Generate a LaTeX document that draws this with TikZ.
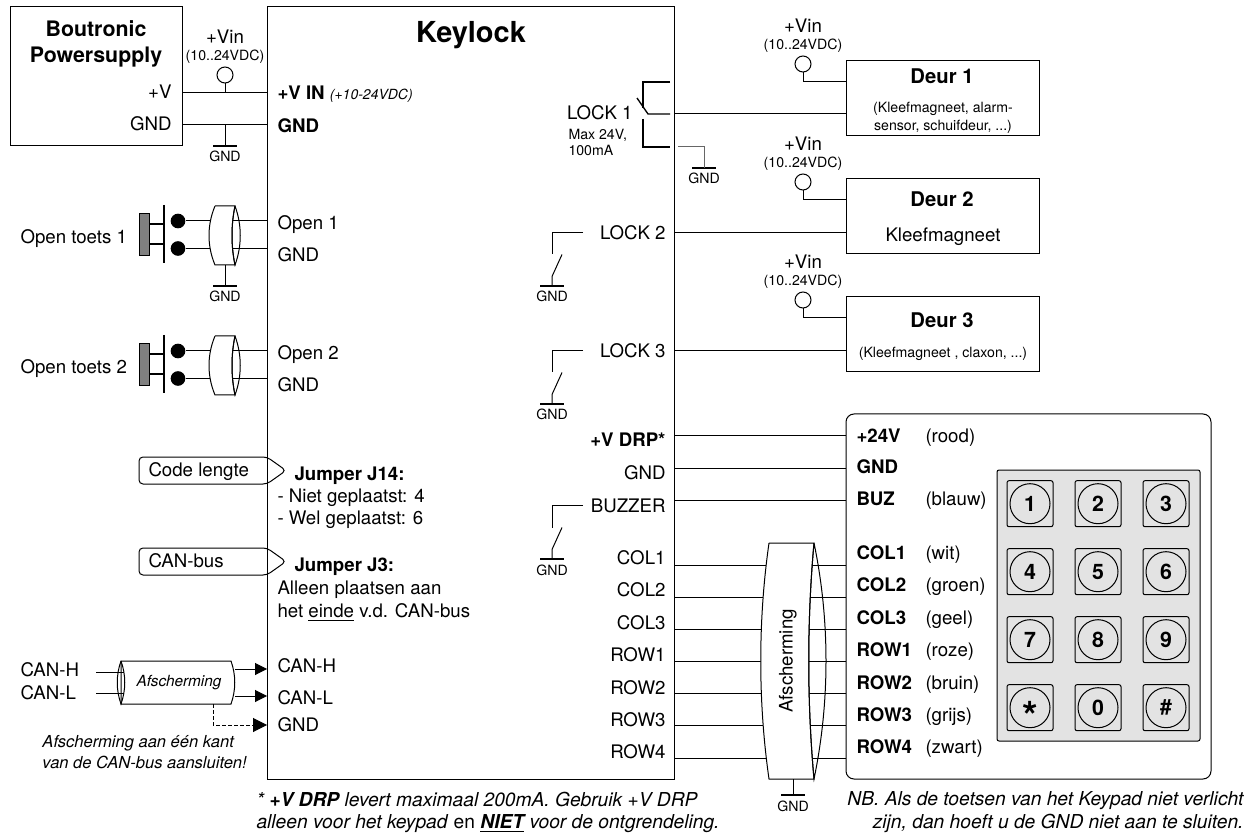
\documentclass[tikz,border=0pt]{standalone}
\usepackage{fontspec}
\setmainfont{TeX Gyre Heros}
\usetikzlibrary{arrows.meta,positioning}
\tikzset{
  txt/.style={inner sep=0pt,font=\fontsize{14}{16}\selectfont,text height=10pt,text depth=0pt},
  btxt/.style={txt,font=\fontsize{14}{16}\selectfont\bfseries},
  small/.style={inner sep=0pt,font=\fontsize{10.6}{12}\selectfont,text height=7.5pt,text depth=0pt},
  note/.style={inner sep=0pt,font=\fontsize{12.4}{14}\selectfont\itshape,text height=9pt,text depth=0pt},
  bignote/.style={inner sep=0pt,font=\fontsize{14.4}{16}\selectfont\itshape,text height=10.4pt,text depth=0pt},
  doort/.style={inner sep=0pt,font=\fontsize{15.2}{17}\selectfont\bfseries},
  box/.style={rectangle,draw,inner sep=0pt},
  wire/.style={line width=0.75pt},
  bar/.style={line width=1.6pt},
  vincirc/.style={circle,draw,inner sep=0pt,minimum size=12pt},
  key/.style={rectangle,draw,fill=black!11,rounded corners=1.5pt,minimum size=34.5pt,inner sep=0pt},
  keyc/.style={circle,draw,inner sep=0pt,minimum size=30pt,font=\fontsize{16}{18}\selectfont\bfseries},
  tip/.style={-{Triangle[length=9pt,width=9pt]}},
  bigtip/.style={-{Triangle[length=10.5pt,width=10.5pt]}}
}
\newcommand{\gndsym}[3]{%
  \coordinate (#1) at (#2,#3);
  \draw[bar] ([xshift=-9pt]#1) -- ([xshift=9pt]#1);
  \node (#1t) [small] at (#2,#3+11) {GND};
}
\begin{document}
\begin{tikzpicture}[x=0.75pt,y=-0.75pt,node distance=14.25pt,line width=0.75pt]
  \useasboundingbox (0,0) rectangle (1254,834);
  % main boxes
  \node (psu) [box,minimum width=129pt,minimum height=104.25pt] at (96,76.5) {};
  \node (keylock) [box,minimum width=305.6pt,minimum height=579.4pt] at (471.25,393.25) {};
  \node (door1) [box,minimum width=144.4pt,minimum height=56.25pt] at (942.75,98.5) {};
  \node (door2) [box,minimum width=144.4pt,minimum height=56.25pt] at (942.75,216.5) {};
  \node (door3) [box,minimum width=144.4pt,minimum height=56.25pt] at (942.75,334.5) {};
  \node (keypad) [box,rounded corners=6pt,minimum width=273.75pt,minimum height=273.75pt] at (1028.5,596.5) {};
  % titles
  \node (title) [inner sep=0pt,font=\fontsize{21.7}{24}\selectfont\bfseries] at (471,35) {Keylock};
  \node (psut) [inner sep=0pt,align=center,font=\fontsize{16}{19.5}\selectfont\bfseries] at (96,43.5) {Boutronic\\Powersupply};
  \node (psuv) [txt,anchor=east] at (172,92) {+V};
  \node (psug) [txt,anchor=east] at (172,124) {GND};
  % +Vin feeds
  \foreach \n/\x/\y in {p/225/37,door1/803/26,door2/803/144,door3/803/262}{
    \node (vin\n) [txt] at (\x,\y) {+Vin};
    \node (vinr\n) [small,below of=vin\n] {(10..24VDC)};
    \node (vinc\n) [vincirc,below of=vinr\n] {};
  }
  \draw[wire] (vincdoor1) |- (door1.west |- 0,82);
  \draw[wire] (vincdoor2) |- (door2.west |- 0,200);
  \draw[wire] (vincdoor3) |- (door3.west |- 0,318);
  % power wires
  \draw[wire] (psu.east |- 0,93) -- (keylock.west |- 0,93);
  \draw[wire] (psu.east |- 0,125) -- (keylock.west |- 0,125);
  \draw[wire] (vincp) -- (225,93);
  \gndsym{gndp}{225}{146}
  \draw[wire] (225,125) -- (gndp);
  \node (vplus) [btxt,anchor=west] at (277,93) {+V IN \fontsize{10.5}{12}\selectfont\mdseries\itshape (+10-24VDC)};
  \node (gndb) [btxt,anchor=west] at (277,126) {GND};
  % open toets
  \foreach \n/\y in {1/0,2/130}{
    \node (opent\n) [txt,anchor=west] at (20,237+\y) {Open toets \n};
    \node (openl\n) [txt,anchor=west] at (277,223+\y) {Open \n};
    \node (openg\n) [txt,anchor=west] at (277,255+\y) {GND};
    \node (knob\n) [rectangle,draw,fill=black!50,inner sep=0pt,minimum width=7.5pt,minimum height=32pt] at (144.5,234.5+\y) {};
    \draw[line width=1.4pt] (knob\n.east |- 0,224+\y) -- (164,224+\y);
    \draw[line width=1.4pt] (knob\n.east |- 0,244+\y) -- (164,244+\y);
    \draw[line width=1.6pt] (164,205+\y) -- (164,263+\y);
    \node (pina\n) [circle,fill=black,inner sep=0pt,minimum size=11pt] at (178,221+\y) {};
    \node (pinb\n) [circle,fill=black,inner sep=0pt,minimum size=11pt] at (178,248.5+\y) {};
    \draw[wire] (pina\n) -- (keylock.west |- pina\n);
    \draw[wire] (pinb\n) -- (keylock.west |- pinb\n);
    \filldraw[fill=white] (215,206+\y) -- (235,206+\y) .. controls (231,225+\y) and (231,246+\y) .. (235,265+\y) -- (215,265+\y) .. controls (207,246+\y) and (207,225+\y) .. (215,206+\y);
    \draw (235,206+\y) .. controls (231,225+\y) and (231,246+\y) .. (235,265+\y) .. controls (242,246+\y) and (242,225+\y) .. (235,206+\y);
  }
  \gndsym{gndo}{225}{286}
  \draw[wire] (225,265) -- (gndo);
  % jumpers
  \draw[rounded corners=3pt] (139,457) -- (267,457) -- (286,470.5) -- (267,484) -- (139,484) -- cycle;
  \draw[rounded corners=3pt] (139,548) -- (267,548) -- (286,561.5) -- (267,575) -- (139,575) -- cycle;
  \node (codel) [txt,anchor=west] at (148,470) {Code lengte};
  \node (canb) [txt,anchor=west] at (148,561) {CAN-bus};
  \node (j14) [btxt,anchor=west] at (294,474) {Jumper J14:};
  \node (j14a) [txt,anchor=west] at (277,496) {- Niet geplaatst: 4};
  \node (j14b) [txt,anchor=west] at (277,518) {- Wel geplaatst: 6};
  \node (j3) [btxt,anchor=west] at (294,565) {Jumper J3:};
  \node (j3a) [txt,anchor=west] at (277,588) {Alleen plaatsen aan};
  \node (j3b) [txt,anchor=west] at (277,611) {het \underline{einde} v.d. CAN-bus};
  % CAN cable
  \node (canh) [txt,anchor=west] at (20,670) {CAN-H};
  \node (canl) [txt,anchor=west] at (20,693) {CAN-L};
  \filldraw[fill=white] (121,661) -- (231,661) .. controls (236,675) and (236,690) .. (231,704) -- (121,704) -- cycle;
  \draw (121,661) .. controls (116,675) and (116,690) .. (121,704) .. controls (126,690) and (126,675) .. (121,661);
  \draw[wire] (96,672) -- (124,672);
  \draw[wire] (96,693) -- (124,693);
  \node (afsch) [inner sep=0pt,font=\fontsize{11.5}{13}\selectfont\itshape] at (179,683) {Afscherming};
  \draw[tip] (235,669) -- (keylock.west |- 0,669);
  \draw[tip] (235,696) -- (keylock.west |- 0,696);
  \draw[bigtip,dash pattern=on 3pt off 1.5pt] (213,704) |- (keylock.west |- 0,725);
  \node (kcanh) [txt,anchor=west] at (277,666) {CAN-H};
  \node (kcanl) [txt,anchor=west] at (277,698) {CAN-L};
  \node (kcang) [txt,anchor=west] at (277,725) {GND};
  \node (cana) [note,anchor=west] at (42,741) {Afscherming aan één kant};
  \node (canc) [note,anchor=west] at (42,762) {van de CAN-bus aansluiten!};
  % lock 1
  \node (lock1) [txt,anchor=east] at (633,113) {LOCK 1};
  \node (maxa) [small,anchor=west] at (568,135) {Max 24V,};
  \node (maxb) [small,anchor=west] at (568,151) {100mA};
  \draw[line width=1pt] (670,82) -- (643,82) -- (643,108);
  \draw[line width=1pt] (637,98) -- (648,114) -- (670,114);
  \draw[line width=1pt] (643,119) -- (643,147) -- (670,147);
  \draw[wire] (keylock.east |- 0,114) -- (door1.west |- 0,114);
  \gndsym{gndl}{704}{168}
  \draw[black!60] (678,147) -| (gndl);
  % locks 2, 3 and buzzer
  \foreach \n/\t/\y in {lock2/LOCK 2/232.5,lock3/LOCK 3/350.5,buzz/BUZZER/505.5}{
    \node (\n) [txt,anchor=east] at (666,\y) {\t};
    \coordinate (\n s) at (552,\y+22);
    \draw (583,\y) -| (\n s);
    \gndsym{\n g}{552}{\y+53.5}
    \draw (\n g) -- (552,\y+44) -- (562,\y+22);
  }
  \draw[wire] (keylock.east |- 0,232.5) -- (door2.west |- 0,232.5);
  \draw[wire] (keylock.east |- 0,350.5) -- (door3.west |- 0,350.5);
  % doors
  \node (door1t) [doort] at (942,76) {Deur 1};
  \node (door1a) [small] at (943,108) {(Kleefmagneet, alarm-};
  \node (door1b) [small] at (943,126) {sensor, schuifdeur, ...)};
  \node (door2t) [doort] at (942,199) {Deur 2};
  \node (door2a) [txt] at (943,235) {Kleefmagneet};
  \node (door3t) [doort] at (942,320) {Deur 3};
  \node (door3a) [small] at (943,353) {(Kleefmagneet , claxon, ...)};
  % keypad wires
  \foreach \l/\k/\c/\w/\ly/\ky in {
    GND/+24V/(rood)/436/0/436,
    GND/GND//468/473/467,
    BUZZER/BUZ/(blauw)/500.5/0/499,
    COL1/COL1/(wit)/565/558/553,
    COL2/COL2/(groen)/597/590/585,
    COL3/COL3/(geel)/629/623/618,
    ROW1/ROW1/(roze)/661/655/650,
    ROW2/ROW2/(bruin)/693.5/688/683,
    ROW3/ROW3/(grijs)/725/720/715,
    ROW4/ROW4/(zwart)/758/752/747}{
    \draw[wire] (keylock.east |- 0,\w) -- (keypad.west |- 0,\w);
    \node (kp\w) [btxt,anchor=west] at (856,\ky) {\k};
    \node (kc\w) [txt,anchor=west] at (925,\ky) {\c};
    \ifnum\ly>0 \node (kl\w) [txt,anchor=east] at (666,\ly) {\l}; \fi
  }
  \node (vdrp) [btxt,anchor=east] at (666,440) {+V DRP*};
  % shield
  \filldraw[fill=white] (769,543) -- (814,543) .. controls (807,620) and (807,702) .. (814,779) -- (769,779) .. controls (758,702) and (758,620) .. (769,543);
  \draw (814,543) .. controls (807,620) and (807,702) .. (814,779) .. controls (830,702) and (830,620) .. (814,543);
  \node (shield) [txt,rotate=90] at (786,661) {Afscherming};
  \gndsym{gnds}{793}{795}
  \draw[wire] (793,779) -- (gnds);
  % keys
  \node (keybg) [box,fill=black!11,rounded corners=1.5pt,minimum width=152.25pt,minimum height=203.25pt] at (1098.5,605.5) {};
  \foreach \t/\x/\y/\n in {1/1030/503.7/k1,2/1098/503.7/k2,3/1166/503.7/k3,
    4/1030/571.7/k4,5/1098/571.7/k5,6/1166/571.7/k6,
    7/1030/639.7/k7,8/1098/639.7/k8,9/1166/639.7/k9,
    {\fontsize{30}{30}\selectfont\smash{\raisebox{-17pt}{*}}}/1030/707.7/kstar,0/1098/707.7/k0,\#/1166/707.7/khash}{
    \node (\n) [key] at (\x,\y) {};
    \node (\n c) [keyc] at (\x,\y) {\t};
  }
  % notes
  \node (noa) [bignote,anchor=west] at (256,800) {* \textbf{+V DRP} levert maximaal 200mA. Gebruik +V DRP};
  \node (nob) [bignote,anchor=west] at (256,822) {alleen voor het keypad \textup{en} \underline{\textbf{NIET}} voor de ontgrendeling.};
  \node (noc) [bignote,anchor=east] at (1244,799) {NB. Als de toetsen van het Keypad niet verlicht};
  \node (nod) [bignote,anchor=east] at (1244,822) {zijn, dan hoeft u de GND niet aan te sluiten.};
\end{tikzpicture}
\end{document}
